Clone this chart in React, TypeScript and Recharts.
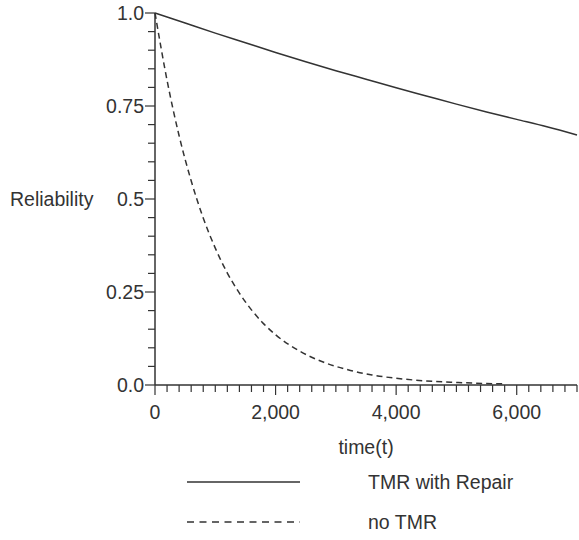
import { LineChart, Line, XAxis, YAxis, Legend } from 'recharts';

const tmrRepair = [
  { t: 0, r: 1.0 },
  { t: 500, r: 0.973 },
  { t: 1000, r: 0.946 },
  { t: 1500, r: 0.92 },
  { t: 2000, r: 0.894 },
  { t: 2500, r: 0.869 },
  { t: 3000, r: 0.845 },
  { t: 3500, r: 0.822 },
  { t: 4000, r: 0.799 },
  { t: 4500, r: 0.777 },
  { t: 5000, r: 0.755 },
  { t: 5500, r: 0.734 },
  { t: 6000, r: 0.714 },
  { t: 6500, r: 0.694 },
  { t: 7000, r: 0.672 },
];

const noTmr = [
  { t: 0, r: 1.0 },
  { t: 200, r: 0.819 },
  { t: 400, r: 0.67 },
  { t: 600, r: 0.549 },
  { t: 800, r: 0.449 },
  { t: 1000, r: 0.368 },
  { t: 1200, r: 0.301 },
  { t: 1400, r: 0.247 },
  { t: 1600, r: 0.202 },
  { t: 1800, r: 0.165 },
  { t: 2000, r: 0.135 },
  { t: 2400, r: 0.091 },
  { t: 2800, r: 0.061 },
  { t: 3200, r: 0.041 },
  { t: 3600, r: 0.027 },
  { t: 4000, r: 0.018 },
  { t: 4500, r: 0.011 },
  { t: 5000, r: 0.007 },
  { t: 5500, r: 0.004 },
  { t: 5800, r: 0.003 },
];

const xMajorTicks = [0, 2000, 4000, 6000];
const xTickLabels = ['0', '2,000', '4,000', '6,000'];
const yMajorTicks = [0, 0.25, 0.5, 0.75, 1];
const yTickLabels = ['0.0', '0.25', '0.5', '0.75', '1.0'];

// minor ticks every 200 on x, every 0.05 on y
const xTicks: number[] = [];
for (let i = 0; i <= 35; i++) xTicks.push(i * 200);
const yTicks: number[] = [];
for (let i = 0; i <= 20; i++) yTicks.push(i / 20);

const ink = '#333';
const font = '"Liberation Sans", Arial, sans-serif';
const fs = 19.5;

function XTick({ x, y, payload }: any) {
  const idx = xMajorTicks.indexOf(payload.value);
  const major = idx >= 0;
  return (
    <g>
      <line x1={x} x2={x} y1={y} y2={y + (major ? 10 : 7)} stroke={ink} strokeWidth={1.2} />
      {major && (
        <text x={x} y={y + 27} textAnchor="middle" dominantBaseline="central" fill={ink} fontSize={fs} fontFamily={font}>
          {xTickLabels[idx]}
        </text>
      )}
    </g>
  );
}

function YTick({ x, y, payload }: any) {
  const idx = yMajorTicks.findIndex((v) => Math.abs(v - payload.value) < 1e-6);
  const major = idx >= 0;
  return (
    <g>
      <line x1={x - (major ? 10 : 7)} x2={x} y1={y} y2={y} stroke={ink} strokeWidth={1.2} />
      {major && (
        <text x={x - 11} y={y} textAnchor="end" dominantBaseline="central" fill={ink} fontSize={fs} fontFamily={font}>
          {yTickLabels[idx]}
        </text>
      )}
    </g>
  );
}

function LegendBox() {
  return (
    <svg width={579} height={78}>
      <line x1={187} x2={300} y1={20} y2={20} stroke={ink} strokeWidth={1.5} />
      <text x={368} y={20} dominantBaseline="central" fill={ink} fontSize={fs} fontFamily={font}>
        TMR with Repair
      </text>
      <line x1={187} x2={300} y1={60} y2={60} stroke={ink} strokeWidth={1.5} strokeDasharray="7 5.5" />
      <text x={368} y={60} dominantBaseline="central" fill={ink} fontSize={fs} fontFamily={font}>
        no TMR
      </text>
    </svg>
  );
}

export default function App() {
  return (
    <div style={{ position: 'absolute', left: 0, top: 0, background: '#fff' }}>
      <LineChart width={579} height={540} margin={{ top: 13, right: 2, left: 0, bottom: 0 }}>
        <XAxis
          type="number"
          dataKey="t"
          domain={[0, 7000]}
          ticks={xTicks}
          interval={0}
          height={155}
          tickSize={0}
          tickMargin={0}
          tickLine={false}
          axisLine={{ stroke: ink, strokeWidth: 1.5 }}
          tick={(p: any) => <XTick {...p} />}
          label={{ value: 'time(t)', position: 'insideTop', offset: 55, fill: ink, fontSize: fs, fontFamily: font }}
        />
        <YAxis
          type="number"
          dataKey="r"
          domain={[0, 1]}
          ticks={yTicks}
          interval={0}
          width={155}
          tickSize={0}
          tickMargin={0}
          tickLine={false}
          axisLine={{ stroke: ink, strokeWidth: 1.5 }}
          tick={(p: any) => <YTick {...p} />}
          label={{ value: 'Reliability', position: 'insideLeft', offset: 10, fill: ink, fontSize: fs, fontFamily: font }}
        />
        <Legend
          verticalAlign="middle"
          align="center"
          layout="horizontal"
          wrapperStyle={{ top: 462, left: 0, width: 579, height: 78 }}
          content={() => <LegendBox />}
        />
        <Line
          data={tmrRepair}
          dataKey="r"
          name="TMR with Repair"
          type="monotone"
          stroke={ink}
          strokeWidth={1.5}
          dot={false}
          isAnimationActive={false}
        />
        <Line
          data={noTmr}
          dataKey="r"
          name="no TMR"
          type="monotone"
          stroke={ink}
          strokeWidth={1.5}
          strokeDasharray="6 4"
          dot={false}
          isAnimationActive={false}
        />
      </LineChart>
    </div>
  );
}
